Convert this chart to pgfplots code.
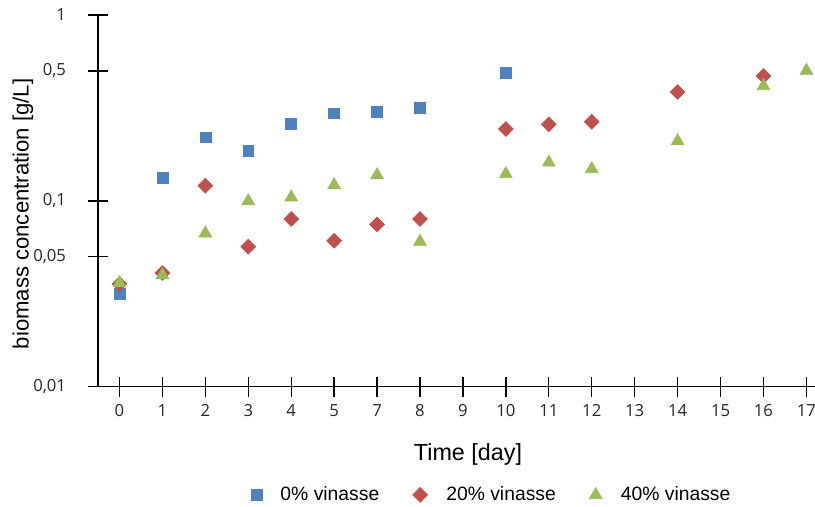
\documentclass[border=0pt]{standalone}
\usepackage{fontspec}
\setmainfont{Liberation Sans}
\newfontfamily\tickfont{Open Sans}
\usepackage{pgfplots}
\pgfplotsset{compat=1.18}

\definecolor{cblue}{HTML}{4F81BD}
\definecolor{cred}{HTML}{C0504D}
\definecolor{cgreen}{HTML}{9BBB59}

% x positions are category indices: days 0,1,2,3,4,5,7,8,9,...,17 (no day 6)
\pgfplotstableread{
x y
0 0.0318
1 0.1332
2 0.2198
3 0.1862
4 0.2614
5 0.2959
6 0.3018
7 0.3171
9 0.4892
}\vinzero
\pgfplotstableread{
x y
0 0.0357
1 0.0409
2 0.1207
3 0.0567
4 0.0799
5 0.0610
6 0.0747
7 0.0799
9 0.2435
10 0.2581
11 0.2666
13 0.3852
15 0.4695
}\vintwenty
\pgfplotstableread{
x y
0 0.0361
1 0.0399
2 0.0669
3 0.0998
4 0.1045
5 0.1217
6 0.1377
7 0.0603
9 0.1395
10 0.1609
11 0.1484
13 0.2099
15 0.4149
16 0.5016
}\vinforty

\begin{document}
\begin{tikzpicture}
\begin{axis}[
    scale only axis,
    width=537.75pt, height=278.8pt,
    ymode=log,
    xmin=-0.5, xmax=16.2,
    ymin=0.01, ymax=1,
    axis lines*=left,
    axis line style={-, line width=1pt, black},
    every tick/.style={black, line width=1pt},
    tick align=center,
    major tick length=15pt,
    xtick={0,...,16},
    xticklabels={0,1,2,3,4,5,7,8,9,10,11,12,13,14,15,16,17},
    ytick={0.01,0.05,0.1,0.5,1},
    yticklabels={{0,01},{0,05},{0,1},{0,5},1},
    yminorticks=false,
    ticklabel style={font=\tickfont\fontsize{12.5}{15}\selectfont, text=black!85},
    xticklabel style={yshift=-2pt},
    yticklabel style={xshift=-13pt},
    xlabel={Time [day]},
    ylabel={biomass concentration [g/L]},
    xlabel style={font=\fontsize{17.5}{20}\selectfont, at={(axis description cs:0.516,-0.183)}, anchor=center},
    ylabel style={font=\fontsize{16.6}{19}\selectfont, at={(axis description cs:-0.1046,0.465)}, anchor=center},
    clip=false,
    legend columns=3,
    legend style={draw=none, at={(axis description cs:0.5495,-0.291)}, anchor=center,
        font=\fontsize{14.5}{17}\selectfont,
        /tikz/every odd column/.append style={column sep=12pt},
        /tikz/every even column/.append style={column sep=23pt}},
    legend cell align=left,
]
\addplot[only marks, mark=square*, mark size=4.1pt, mark options={draw=cblue, fill=cblue}] table {\vinzero};
\addlegendentry{0\% vinasse}
\addplot[only marks, mark=diamond*, mark size=5.6pt, mark options={draw=cred, fill=cred, xscale=1.33}] table {\vintwenty};
\addlegendentry{20\% vinasse}
\addplot[only marks, mark=triangle*, mark size=5.6pt, mark options={draw=cgreen, fill=cgreen}] table {\vinforty};
\addlegendentry{40\% vinasse}
\end{axis}
\pgfresetboundingbox
\path ([shift={(-73.5pt,-89.5pt)}]current axis.south west) rectangle ([shift={(0pt,11.25pt)}]current axis.north east);
\end{tikzpicture}
\end{document}
